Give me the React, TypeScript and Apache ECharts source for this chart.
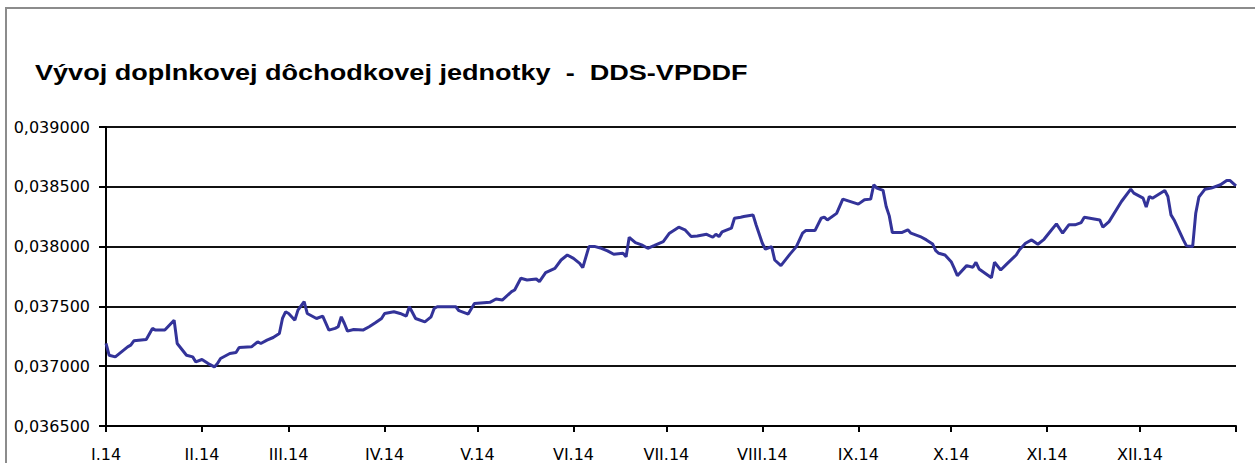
import React, { useEffect, useRef } from "react";
import * as echarts from "echarts";

const TITLE = "Vývoj doplnkovej dôchodkovej jednotky  -  DDS-VPDDF";

// day of year 2014 (0 = 1 Jan)
const days: number[] = [
  0, 1, 3, 7, 8, 9, 13, 15, 16, 19, 22, 23, 26, 28, 29, 31, 33, 35, 36, 37,
  40, 42, 43, 47, 49, 50, 52, 54, 56, 57, 58, 59, 61, 62, 64, 65, 68, 70, 72, 74,
  75, 76, 77, 78, 80, 83, 85, 87, 89, 90, 93, 95, 97, 98, 100, 103, 105, 106, 107, 113,
  114, 117, 119, 124, 126, 128, 131, 132, 134, 136, 139, 140, 142, 145, 147, 149, 151, 153, 154, 156,
  158, 160, 162, 164, 167, 168, 169, 171, 173, 175, 177, 180, 182, 185, 187, 189, 191, 194, 196, 197,
  198, 199, 202, 203, 205, 206, 209, 210, 212, 213, 215, 216, 218, 221, 223, 225, 226, 229, 231, 232,
  233, 236, 238, 243, 245, 247, 248, 249, 251, 252, 253, 254, 257, 259, 260, 263, 265, 267, 268, 269,
  271, 273, 274, 275, 278, 280, 281, 282, 286, 287, 289, 291, 294, 295, 297, 299, 301, 303, 305, 307,
  309, 311, 313, 315, 316, 321, 322, 324, 328, 331, 332, 335, 336, 337, 338, 342, 343, 344, 345, 348,
  349, 351, 352, 353, 355, 357, 360, 362, 363, 365,
];

const unitValues: number[] = [
  0.03719, 0.037092, 0.037078, 0.037162, 0.037176, 0.037212, 0.037223, 0.037316, 0.037302, 0.037302,
  0.037385, 0.03719, 0.037092, 0.037078, 0.037036, 0.037056, 0.037022, 0.036994, 0.037022, 0.037064,
  0.037106, 0.037114, 0.037156, 0.037162, 0.037204, 0.03719, 0.037218, 0.03724, 0.037274, 0.037399,
  0.037455, 0.037441, 0.037385, 0.037469, 0.037539, 0.037441, 0.037399, 0.037419, 0.037302, 0.037316,
  0.03733, 0.037413, 0.037357, 0.037293, 0.037307, 0.037302, 0.03733, 0.037363, 0.037399, 0.037441,
  0.037455, 0.037441, 0.037419, 0.037497, 0.037399, 0.037371, 0.037413, 0.037483, 0.037497, 0.037497,
  0.037464, 0.037436, 0.037525, 0.037534, 0.037562, 0.037553, 0.037623, 0.037637, 0.037735, 0.037721,
  0.037729, 0.037707, 0.037782, 0.037818, 0.037888, 0.03793, 0.037902, 0.03786, 0.037824, 0.038,
  0.038, 0.037986, 0.037964, 0.037936, 0.037944, 0.037916, 0.038078, 0.038033, 0.038014, 0.037986,
  0.038008, 0.038042, 0.038112, 0.038162, 0.03814, 0.038084, 0.038089, 0.038103, 0.038078, 0.038103,
  0.038084, 0.038123, 0.038154, 0.038237, 0.038246, 0.038251, 0.038265, 0.038181, 0.038028, 0.037978,
  0.038, 0.037888, 0.037841, 0.037939, 0.038, 0.038112, 0.038134, 0.038134, 0.038237, 0.038246,
  0.038223, 0.038278, 0.038397, 0.038355, 0.038391, 0.038397, 0.038517, 0.038489, 0.03847, 0.038335,
  0.038257, 0.038117, 0.038117, 0.03814, 0.038112, 0.038084, 0.038056, 0.038022, 0.037966, 0.037944,
  0.03793, 0.037874, 0.037818, 0.037757, 0.037841, 0.037827, 0.037869, 0.037813, 0.03774, 0.037869,
  0.037804, 0.037855, 0.03793, 0.037972, 0.038028, 0.038056, 0.03802, 0.038061, 0.038126, 0.03819,
  0.038112, 0.038182, 0.038182, 0.038201, 0.038246, 0.038223, 0.038162, 0.038209, 0.038377, 0.03848,
  0.038447, 0.038405, 0.03833, 0.038419, 0.038405, 0.038469, 0.038419, 0.038265, 0.038223, 0.038056,
  0.038006, 0.038, 0.038279, 0.038413, 0.03848, 0.038489, 0.038517, 0.038553, 0.038553, 0.038508,
];

const monthStarts: number[] = [0, 31, 59, 90, 120, 151, 181, 212, 243, 273, 304, 334, 365];
const monthLabels: string[] = [
  "I.14", "II.14", "III.14", "IV.14", "V.14", "VI.14",
  "VII.14", "VIII.14", "IX.14", "X.14", "XI.14", "XII.14",
];

const Y_MIN = 0.0365;
const Y_MAX = 0.039;
const Y_STEP = 0.0005;

export default function App() {
  const ref = useRef<HTMLDivElement>(null);

  useEffect(() => {
    if (!ref.current) return;
    const chart = echarts.init(ref.current, undefined, { renderer: "svg" });
    const seriesData = days.map((d, i) => [d, unitValues[i]]);
    chart.setOption({
      animation: false,
      backgroundColor: "#ffffff",
      graphic: [
        {
          type: "rect",
          silent: true,
          shape: { x: 6, y: 8, width: 1400, height: 600 },
          style: { fill: "none", stroke: "#8c8c8c", lineWidth: 2 },
        },
        {
          type: "text",
          silent: true,
          x: 35,
          y: 72,
          scaleX: 1.23,
          style: {
            text: TITLE,
            x: 0,
            y: 0,
            fill: "#000000",
            font: 'bold 22px "Liberation Sans", Arial, sans-serif',
            textAlign: "left",
            textVerticalAlign: "middle",
          },
        },
      ],
      grid: { left: 106, right: 19, top: 127, bottom: 37, containLabel: false },
      xAxis: {
        type: "value",
        min: 0,
        max: 365,
        splitLine: { show: false },
        axisLine: { show: true, lineStyle: { color: "#000", width: 2 } },
        axisTick: {
          show: true,
          customValues: monthStarts,
          length: 6,
          lineStyle: { color: "#000", width: 2 },
        },
        axisLabel: {
          customValues: monthStarts.slice(0, 12),
          formatter: (v: number) => {
            const i = monthStarts.indexOf(Math.round(v));
            return i >= 0 && i < monthLabels.length ? monthLabels[i] : "";
          },
          margin: 20,
          fontFamily: "DejaVu Sans, sans-serif",
          fontSize: 16,
          color: "#000",
        },
      },
      yAxis: {
        type: "value",
        min: Y_MIN,
        max: Y_MAX,
        interval: Y_STEP,
        axisLine: { show: true, lineStyle: { color: "#000", width: 2 } },
        axisTick: { show: true, length: 7, lineStyle: { color: "#000", width: 2 } },
        splitLine: { show: true, lineStyle: { color: "#111", width: 2 } },
        axisLabel: {
          formatter: (v: number) => v.toFixed(6).replace(".", ","),
          margin: 16,
          fontFamily: "DejaVu Sans, sans-serif",
          fontSize: 16,
          color: "#000",
        },
      },
      series: [
        {
          type: "line",
          data: seriesData,
          showSymbol: false,
          symbol: "none",
          lineStyle: { color: "#333399", width: 3 },
          z: 5,
        },
      ],
    });
    return () => chart.dispose();
  }, []);

  return (
    <div
      ref={ref}
      style={{ position: "fixed", left: 0, top: 0, width: 1255, height: 463, background: "#fff" }}
    />
  );
}
